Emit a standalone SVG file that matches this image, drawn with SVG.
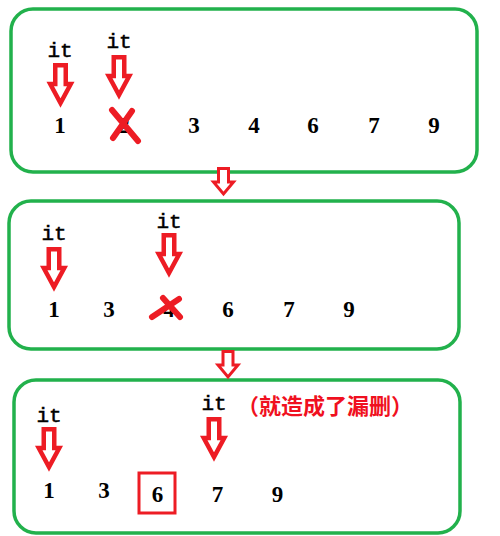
<svg xmlns="http://www.w3.org/2000/svg" xmlns:xlink="http://www.w3.org/1999/xlink" width="500" height="536" viewBox="0 0 500 536">
<style>
.box{fill:none;stroke:#22b14c;stroke-width:3.5}
.arr{fill:#fff;stroke:#ed1c24;stroke-width:4.5;stroke-linejoin:miter}
.conn{fill:#fff;stroke:#ed1c24;stroke-width:3;stroke-linejoin:miter}
.it{font-family:"Liberation Mono",monospace;font-size:21px;fill:#000;stroke:#000;stroke-width:0.5;text-anchor:middle}
.num{font-family:"Liberation Serif",serif;font-size:23px;font-weight:bold;fill:#000;text-anchor:middle}
.x{stroke:#ed1c24;stroke-width:6;stroke-linecap:round;fill:none}
.note{font-family:"Noto Sans CJK SC",sans-serif;font-size:22px;font-weight:bold;fill:#f01020;text-anchor:middle}
</style>
<defs>
<path id="a" class="arr" d="M-5.25,2.25 H5.25 V21 H10.25 L0,40 L-10.25,21 H-5.25 Z"/>
<path id="c" class="conn" d="M-5,1.5 H5 V15 H10 L0,27 L-10,15 H-5 Z"/>
</defs>
<rect width="500" height="536" fill="#fff"/>
<g id="step1">
<rect class="box" x="11" y="9" width="466" height="163" rx="22"/>
<text class="it" x="60" y="57">it</text>
<text class="it" x="119" y="48">it</text>
<use xlink:href="#a" x="60.5" y="63"/>
<use xlink:href="#a" x="119" y="55"/>
<text class="num" x="60" y="133">1</text>
<text class="num" x="124" y="133">2</text>
<text class="num" x="194" y="133">3</text>
<text class="num" x="254" y="133">4</text>
<text class="num" x="313" y="133">6</text>
<text class="num" x="374" y="133">7</text>
<text class="num" x="434" y="133">9</text>
<path class="x" d="M112,110 L138,141 M132,111 L113,138"/>
</g>
<g id="step2">
<rect class="box" x="9" y="201" width="450" height="148" rx="22"/>
<text class="it" x="54" y="240">it</text>
<text class="it" x="169" y="228">it</text>
<use xlink:href="#a" x="54" y="247"/>
<use xlink:href="#a" x="169" y="233"/>
<text class="num" x="54" y="317">1</text>
<text class="num" x="109" y="317">3</text>
<text class="num" x="169" y="317">4</text>
<text class="num" x="228" y="317">6</text>
<text class="num" x="289" y="317">7</text>
<text class="num" x="349" y="317">9</text>
<path class="x" d="M152,317 L179,299 M163,298 L180,317"/>
</g>
<g id="step3">
<rect class="box" x="14" y="380" width="446" height="153" rx="22"/>
<text class="it" x="49" y="422">it</text>
<text class="it" x="214" y="410">it</text>
<use xlink:href="#a" x="49" y="427"/>
<use xlink:href="#a" x="214" y="417"/>
<text class="note" x="325" y="414">（就造成了漏删）</text>
<text class="num" x="49" y="498">1</text>
<text class="num" x="104" y="498">3</text>
<rect x="139" y="473" width="36" height="40" fill="none" stroke="#ed1c24" stroke-width="3"/>
<text class="num" x="157.5" y="502">6</text>
<text class="num" x="217.5" y="502">7</text>
<text class="num" x="277.5" y="502">9</text>
</g>
<g id="connectors">
<use xlink:href="#c" x="223.5" y="167"/>
<use xlink:href="#c" x="228" y="350"/>
</g>
</svg>
